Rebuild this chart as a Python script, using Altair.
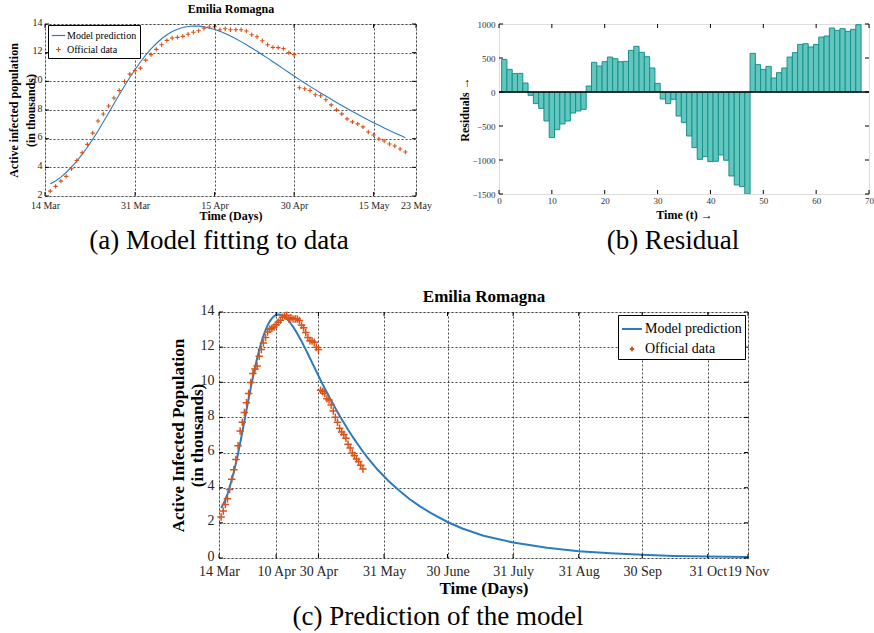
import altair as alt
import pandas as pd

FONT = "Liberation Serif"
CAPFONT = "Liberation Serif"
BLUE = "#2b7bbf"
ORANGE = "#d95319"
TEAL_FILL = "#62c6bf"
TEAL_EDGE = "#15918b"
SERIES = ["Model prediction", "Official data"]

# ---- data (days since 14 Mar) ----
days = list(range(1, 69))
official = [2.34, 2.67, 3.04, 3.37, 3.90, 4.48, 5.02, 5.60, 6.39, 7.23,
            7.72, 8.28, 8.84, 9.36, 9.99, 10.50, 10.76, 10.92, 11.48, 11.86,
            12.23, 12.55, 12.86, 13.02, 13.07, 13.14, 13.28, 13.42, 13.53, 13.70,
            13.79, 13.81, 13.60, 13.67, 13.60, 13.60, 13.60, 13.51, 13.25, 13.11,
            12.83, 12.55, 12.37, 12.35, 12.28, 12.00, 11.86, 9.55, 9.48, 9.36,
            9.06, 8.99, 8.71, 8.36, 8.01, 7.73, 7.38, 7.17, 7.03, 6.82,
            6.47, 6.26, 5.98, 5.84, 5.63, 5.49, 5.28, 5.07]

model_days = days + [70, 75, 80, 85, 90, 95, 100, 108, 115, 125, 139, 155,
                     170, 185, 200, 215, 231, 250]
model_vals = [2.85, 3.05, 3.32, 3.64, 4.02, 4.44, 4.90, 5.40, 5.95, 6.54,
              7.16, 7.79, 8.43, 9.06, 9.68, 10.27, 10.83, 11.35, 11.83, 12.26,
              12.64, 12.97, 13.25, 13.47, 13.64, 13.76, 13.83, 13.86, 13.85, 13.80,
              13.72, 13.62, 13.49, 13.33, 13.16, 12.97, 12.77, 12.55, 12.33, 12.10,
              11.86, 11.62, 11.37, 11.12, 10.87, 10.62, 10.37, 10.12, 9.88, 9.65,
              9.42, 9.19, 8.97, 8.75, 8.53, 8.31, 8.10, 7.90, 7.70, 7.50,
              7.30, 7.11, 6.93, 6.75, 6.57, 6.40, 6.23, 6.06,
              5.74, 5.02, 4.40, 3.85, 3.36, 2.94, 2.57, 2.05, 1.68, 1.27, 0.88, 0.58,
              0.39, 0.27, 0.18, 0.12, 0.08, 0.05]

res_t = list(range(1, 69))
residuals = [480, 333, 270, 274, 132, -49, -171, -240, -426, -671,
             -554, -470, -426, -309, -279, -255, 88, 436, 382, 446,
             514, 490, 446, 451, 612, 671, 583, 519, 353, 127,
             -103, -171, -108, -353, -451, -647, -818, -990, -951, -1024,
             -1019, -926, -1004, -1235, -1367, -1392, -1500, 568, 402, 333,
             377, 206, 284, 353, 514, 578, 700, 710, 662, 700,
             808, 823, 941, 906, 931, 892, 921, 990]

ticks_a_days = [0, 17, 32, 47, 62, 70]
ticks_a_labels = ["14 Mar", "31 Mar", "15 Apr", "30 Apr", "15 May", "23 May"]
ticks_c_days = [0, 27, 47, 78, 108, 139, 170, 200, 231, 250]
ticks_c_labels = ["14 Mar", "10 Apr", "30 Apr", "31 May", "30 June", "31 July",
                  "31 Aug", "30 Sep", "31 Oct", "19 Nov"]
yticks_a = [2, 4, 6, 8, 10, 12, 14]
yticks_c = [0, 2, 4, 6, 8, 10, 12, 14]
xticks_b = [0, 10, 20, 30, 40, 50, 60, 70]
yticks_b = [-1500, -1000, -500, 0, 500, 1000]


def label_expr(vals, labels):
    expr = "''"
    for v, l in reversed(list(zip(vals, labels))):
        expr = f"datum.value == {v} ? '{l}' : {expr}"
    return expr


def inner_ticks(xvals, yvals, xs, ys, w, h, L=4):
    dx = pd.DataFrame({"tv": xvals})
    dy = pd.DataFrame({"tv": yvals})
    bx = alt.Chart(dx).mark_rule(color="black", strokeWidth=1)
    by = alt.Chart(dy).mark_rule(color="black", strokeWidth=1)
    X = alt.X("tv:Q", scale=xs, axis=None)
    Y = alt.Y("tv:Q", scale=ys, axis=None)
    return [
        bx.encode(x=X, y=alt.value(h), y2=alt.value(h - L)),
        bx.encode(x=X, y=alt.value(0), y2=alt.value(L)),
        by.encode(y=Y, x=alt.value(0), x2=alt.value(L)),
        by.encode(y=Y, x=alt.value(w), x2=alt.value(w - L)),
    ]


df_off = pd.DataFrame({"day": days, "val": official, "series": "Official data"})
df_mod = pd.DataFrame({"day": model_days, "val": model_vals})
df_mod_a = df_mod[df_mod["day"] <= 68]


def fit_panel(w, h, xdom, ydom, xt, xl, yt, dfm, lab_fs, ttl_fs, ytitle, ytitle_x,
              ytitle_lh, xtitle_y, top_y, lab_pad, plus_h, pt_size, pt_sw, line_sw, leg,
              caption, cap_dx, cap_off):
    xs = alt.Scale(domain=xdom, nice=False, zero=False)
    ys = alt.Scale(domain=ydom, nice=False, zero=False)
    grid = dict(grid=True, gridDash=[2, 2], gridColor="black", gridOpacity=0.9,
                gridWidth=0.8, ticks=False, domain=False, labelFont=FONT,
                labelColor="#262626", labelFlush=False, labelOverlap=False,
                titleFont=FONT, titleFontWeight="bold", titleColor="black")
    yax = alt.Axis(values=yt, labelFontSize=lab_fs, labelPadding=lab_pad,
                   labelOffset=-2,
                   title=[ytitle, "(in thousands)"],
                   titleFontSize=ttl_fs, titleX=ytitle_x, titleY=h / 2, titleAngle=270,
                   titleBaseline="middle", titleAlign="center", titleLineHeight=ytitle_lh,
                   **grid)
    xax = alt.Axis(values=xt, labelExpr=label_expr(xt, xl), labelFontSize=lab_fs,
                   labelPadding=lab_pad + 1, title="Time (Days)", titleFontSize=ttl_fs,
                   titleY=xtitle_y, titleBaseline="middle", **grid)
    topax = alt.Axis(orient="top", labels=False, ticks=False, domain=False, grid=False,
                     title="Emilia Romagna", titleFont=FONT, titleFontWeight="bold",
                     titleFontSize=ttl_fs, titleY=top_y, titleBaseline="middle",
                     titleColor="black")
    plus = f"M-{plus_h},0H{plus_h}M0,-{plus_h}V{plus_h}"
    legend = alt.Legend(title=None, orient="none", labelFont=FONT, labelColor="black",
                        strokeColor="black", fillColor="white", **leg)
    line = alt.Chart(dfm).mark_line(color=BLUE, strokeWidth=line_sw).encode(
        x=alt.X("day:Q", scale=xs, axis=topax),
        y=alt.Y("val:Q", scale=ys, axis=None),
    )
    pts = alt.Chart(df_off).mark_point(filled=False, size=pt_size, strokeWidth=pt_sw,
                                       opacity=1).encode(
        x=alt.X("day:Q", scale=xs, axis=xax),
        y=alt.Y("val:Q", scale=ys, axis=yax),
        color=alt.Color("series:N", scale=alt.Scale(domain=SERIES, range=[BLUE, ORANGE]),
                        legend=legend),
        shape=alt.Shape("series:N", scale=alt.Scale(domain=SERIES, range=["stroke", plus]),
                        legend=legend),
    )
    layers = [line, pts] + inner_ticks(xt, yt, xs, ys, w, h)
    return alt.layer(*layers).resolve_axis(x="independent", y="independent").properties(
        width=w, height=h,
        title=alt.TitleParams(caption, orient="bottom", anchor="middle", frame="group",
                              dx=cap_dx, offset=cap_off, font=CAPFONT, fontSize=27,
                              fontWeight="normal", color="black"),
    )


WA, HA = 371, 172
WB, HB = 370, 170
WC, HC = 529, 246

chart_a = fit_panel(
    WA, HA, [0, 70], [2, 14], ticks_a_days, ticks_a_labels, yticks_a, df_mod_a,
    10, 12, "Active infected population", -32, 17, 19.5, -16, 3, 0.36, 150, 1.1, 1.1,
    dict(legendX=3, legendY=1, padding=3, labelFontSize=10, symbolSize=180,
         symbolStrokeWidth=1.2, rowPadding=1, labelOffset=1),
    "(a) Model fitting to data", -11.5, 6)

chart_c = fit_panel(
    WC, HC, [0, 250], [0, 14], ticks_c_days, ticks_c_labels, yticks_c, df_mod,
    14, 17, "Active Infected Population", -40.5, 18.5, 30.3, -15.7, 5, 0.22, 1160, 1.5, 2,
    dict(legendX=399, legendY=3, padding=3, labelFontSize=14, symbolSize=400,
         symbolStrokeWidth=2, rowPadding=2, labelOffset=2),
    "(c) Prediction of the model", -45.5, 8)

# ---- panel b ----
xsb = alt.Scale(domain=[0, 70], nice=False, zero=False)
ysb = alt.Scale(domain=[-1500, 1000], nice=False, zero=False)
df_res = pd.DataFrame({"t": res_t, "r": residuals})
bax = dict(grid=False, ticks=False, domain=False, labelFont=FONT, labelFontSize=9,
           labelColor="#333333", labelFlush=False, labelOverlap=False, titleFont=FONT,
           titleFontWeight="bold", titleColor="black", format="d")
bars = alt.Chart(df_res).transform_calculate(
    t0="datum.t - 0.5", t1="datum.t + 0.5"
).mark_bar(fill=TEAL_FILL, stroke=TEAL_EDGE, strokeWidth=1, clip=True).encode(
    x=alt.X("t0:Q", scale=xsb,
            axis=alt.Axis(values=xticks_b, labelPadding=2, title="Time (t) \u2192",
                          titleFontSize=12, titleY=20, titleBaseline="middle", **bax)),
    x2="t1:Q",
    y=alt.Y("r:Q", scale=ysb,
            axis=alt.Axis(values=yticks_b, labelPadding=4, title="Residuals  \u2192",
                          titleFontSize=12, titleX=-35, titleY=HB / 2, titleAngle=270,
                          titleBaseline="middle", titleAlign="center", **bax)),
    y2=alt.datum(0),
)
zero = alt.Chart(pd.DataFrame({"z": [0]})).mark_rule(color="black", strokeWidth=1.3).encode(
    y=alt.Y("z:Q", scale=ysb, axis=None)
)
chart_b = alt.layer(bars, zero, *inner_ticks(xticks_b, yticks_b, xsb, ysb, WB, HB)).resolve_axis(
    x="independent", y="independent"
).properties(
    width=WB, height=HB,
    title=alt.TitleParams("(b) Residual", orient="bottom", anchor="middle", frame="group",
                          dx=-11, offset=8, font=CAPFONT, fontSize=27,
                          fontWeight="normal", color="black"),
)

spacer = alt.Chart(pd.DataFrame({"s": [0]})).mark_point(opacity=0, size=1).encode(
    x=alt.value(1), y=alt.value(1)
).properties(width=164, height=10, view=alt.ViewBackground(strokeOpacity=0))

top_row = alt.hconcat(chart_a, chart_b, spacing=83, bounds="flush").resolve_legend(
    color="independent", shape="independent")
bottom_row = alt.hconcat(spacer, chart_c, spacing=10, bounds="flush").resolve_legend(
    color="independent", shape="independent")

chart = alt.vconcat(top_row, bottom_row, spacing=31).resolve_scale(
    x="independent", y="independent", color="independent", shape="independent"
).resolve_legend(color="independent", shape="independent").properties(
    padding={"left": 6, "top": 1, "right": 0, "bottom": 0}
).configure_view(stroke="black", strokeWidth=1).configure(background="white")

chart.save("out.html", embed_options={"renderer": "svg", "actions": False})
